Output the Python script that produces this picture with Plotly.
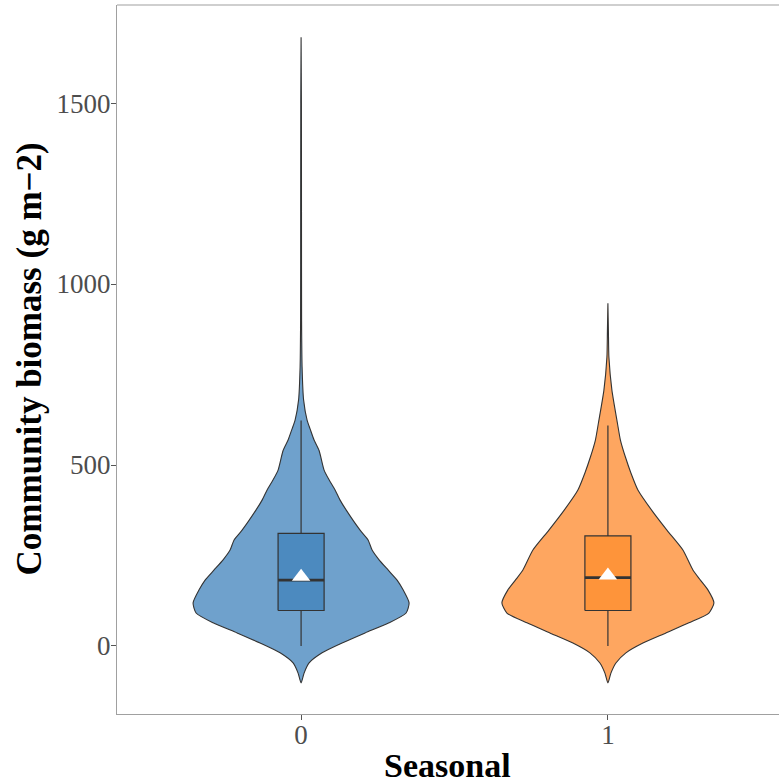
import plotly.graph_objects as go

# ---------------- data ----------------
categories = ["0", "1"]

# violin outline: biomass levels and relative density
levels_0 = [-102, -75, -47, -19, 8, 36, 64, 91, 119, 155, 182, 210, 238, 265, 293, 320,
            376, 403, 431, 459, 486, 540, 569, 600, 624, 680, 771, 900, 1200, 1500, 1682]
density_0 = [0, 3, 8, 21, 41, 64, 88, 105, 108, 102, 96, 87, 78, 71, 67, 59,
             45, 39, 34, 28, 23, 18, 13, 9, 6, 2.5, 1, 0.5, 0.4, 0.3, 0]

levels_1 = [-102, -75, -47, -19, 8, 36, 64, 91, 119, 155, 182, 210, 265, 320,
            376, 431, 478, 522, 569, 616, 707, 798, 870, 947]
density_1 = [0, 3, 8, 18, 35, 58, 81, 101, 106, 100, 92.5, 85, 75, 59,
             43.5, 30, 23, 17.5, 12.5, 9.5, 4, 1, 0.5, 0]

# box statistics
lower_whisker = [0, 0]
q1 = [98, 98]
median = [182, 189]
q3 = [311, 304]
upper_whisker = [623, 609]
means = [191, 195]

# ---------------- style ----------------
violin_fill = ["#6FA1CC", "#FEA660"]
box_fill = ["#4C8ABF", "#FE943A"]
outline = "#333333"
frame = "#A0A0A0"
VIOLIN_HALF = 0.352
BOX_WIDTH = 0.15
serif = "Liberation Serif, Times New Roman, serif"

fig = go.Figure()

profiles = [(levels_0, density_0), (levels_1, density_1)]
dmax = max(max(density_0), max(density_1))

for i, (lv, dn) in enumerate(profiles):
    left_x = [i - d / dmax * VIOLIN_HALF for d in dn]
    right_x = [i + d / dmax * VIOLIN_HALF for d in dn]
    xs = left_x + right_x[::-1]
    ys = lv + lv[::-1]
    fig.add_trace(go.Scatter(
        x=xs, y=ys, mode="lines", fill="toself",
        fillcolor=violin_fill[i],
        line=dict(color=outline, width=1.1, shape="spline", smoothing=0.6),
        hoverinfo="skip", showlegend=False))

for i in range(len(categories)):
    h = BOX_WIDTH / 2
    # whiskers
    fig.add_trace(go.Scatter(
        x=[i, i, None, i, i],
        y=[lower_whisker[i], q1[i], None, q3[i], upper_whisker[i]],
        mode="lines", line=dict(color=outline, width=1.2),
        showlegend=False, hoverinfo="skip"))
    # box
    fig.add_trace(go.Scatter(
        x=[i - h, i + h, i + h, i - h, i - h],
        y=[q1[i], q1[i], q3[i], q3[i], q1[i]],
        mode="lines", fill="toself", fillcolor=box_fill[i],
        line=dict(color=outline, width=1.2),
        showlegend=False, hoverinfo="skip"))
    # median
    fig.add_trace(go.Scatter(
        x=[i - h, i + h], y=[median[i], median[i]],
        mode="lines", line=dict(color=outline, width=2.8),
        showlegend=False, hoverinfo="skip"))

fig.add_trace(go.Scatter(
    x=list(range(len(categories))), y=means, mode="markers",
    marker=dict(symbol="triangle-up", size=16, color="white", line=dict(width=0)),
    showlegend=False, hoverinfo="skip"))

# panel runs past the right edge of the window, as in the reference
fig.update_layout(
    width=792, height=784,
    margin=dict(l=117, r=0, t=5, b=70),
    paper_bgcolor="white", plot_bgcolor="white",
    font=dict(family=serif),
)

fig.update_xaxes(
    range=[-0.6, 1.6], tickvals=[0, 1], ticktext=categories,
    showgrid=False, zeroline=False, automargin=False,
    showline=True, mirror=False, linecolor=frame, linewidth=1.2,
    ticks="outside", ticklen=5, tickcolor="#555555", tickwidth=1,
    ticklabelstandoff=-9,
    tickfont=dict(size=27, color="#4D4D4D", family=serif),
)
fig.update_yaxes(
    range=[-188, 1771], tickvals=[0, 500, 1000, 1500],
    showgrid=False, zeroline=False, automargin=False,
    showline=True, mirror=False, linecolor=frame, linewidth=1.2,
    ticks="outside", ticklen=5, tickcolor="#555555", tickwidth=1,
    ticklabelstandoff=-5,
    tickfont=dict(size=27, color="#4D4D4D", family=serif),
)

# top frame line
fig.add_shape(type="line", xref="paper", yref="paper", x0=0, x1=1, y0=1, y1=1,
              line=dict(color=frame, width=1.2))

fig.add_annotation(
    text="<b>Seasonal</b>", xref="paper", yref="paper", x=0.5, xshift=-7, y=0, yshift=-51,
    xanchor="center", yanchor="middle", showarrow=False,
    font=dict(size=34, color="black", family=serif))
fig.add_annotation(
    text="<b>Community biomass (g m\u22122)</b>", xref="paper", yref="paper",
    x=0, xshift=-88, y=0.5, textangle=-90,
    xanchor="center", yanchor="middle", showarrow=False,
    font=dict(size=35, color="black", family=serif))

fig.write_html(
    "out.html",
    config={"displayModeBar": False},
    post_script="document.body.style.margin='0';document.body.style.overflow='hidden';",
)
